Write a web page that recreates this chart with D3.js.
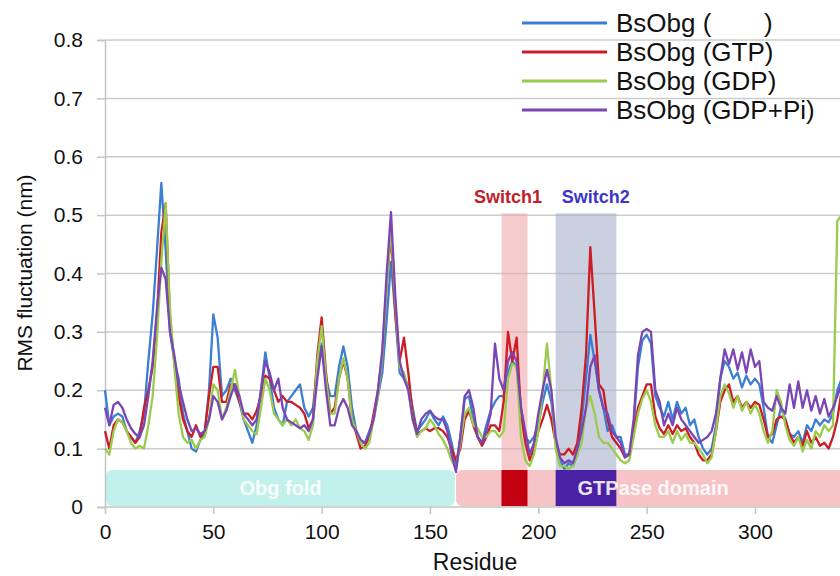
<!DOCTYPE html>
<html>
<head>
<meta charset="utf-8">
<script src="https://cdn.jsdelivr.net/npm/d3@7"></script>
<style>
  body { margin: 0; background: #fff; }
  svg { display: block; font-family: Arial, "Liberation Sans", sans-serif; }
</style>
</head>
<body>
<script>
// residue numbers (every second residue)
const residues = [0,2,4,6,8,10,12,14,16,18,20,22,24,26,28,30,32,34,36,38,
  40,42,44,46,48,50,52,54,56,58,60,62,64,66,68,70,72,74,76,78,
  80,82,84,86,88,90,92,94,96,98,100,102,104,106,108,110,112,114,116,118,
  120,122,124,126,128,130,132,134,136,138,140,142,144,146,148,150,152,154,156,158,
  160,162,164,166,168,170,172,174,176,178,180,182,184,186,188,190,192,194,196,198,
  200,202,204,206,208,210,212,214,216,218,220,222,224,226,228,230,232,234,236,238,
  240,242,244,246,248,250,252,254,256,258,260,262,264,266,268,270,272,274,276,278,
  280,282,284,286,288,290,292,294,296,298,300,302,304,306,308,310,312,314,316,318,
  320,322,324,326,328,330,332,334,336,338,340,342];

// RMS fluctuation (nm)
const apo = [.20,.14,.155,.16,.155,.13,.12,.11,.13,.16,
  .25,.33,.44,.555,.44,.30,.25,.22,.16,.13,
  .10,.095,.115,.125,.20,.33,.29,.19,.20,.22,
  .20,.18,.15,.13,.11,.14,.20,.265,.22,.17,
  .15,.14,.18,.19,.20,.21,.17,.155,.17,.24,
  .28,.22,.19,.19,.24,.275,.24,.17,.13,.11,
  .11,.13,.15,.19,.23,.32,.42,.33,.23,.22,
  .21,.17,.13,.14,.15,.165,.15,.14,.155,.14,
  .11,.07,.12,.185,.19,.15,.12,.11,.14,.165,
  .18,.19,.19,.23,.25,.24,.17,.12,.11,.12,
  .14,.18,.21,.18,.11,.08,.065,.075,.07,.09,
  .15,.22,.295,.25,.20,.17,.13,.14,.12,.12,
  .09,.09,.14,.24,.285,.295,.28,.19,.17,.155,
  .18,.15,.18,.16,.17,.14,.15,.12,.10,.09,
  .10,.14,.22,.25,.24,.22,.23,.205,.225,.21,
  .22,.21,.17,.12,.11,.14,.17,.15,.125,.12,
  .13,.11,.14,.13,.15,.14,.15,.145,.16,.20,
  .22,.23];

const gtp = [.13,.10,.14,.15,.145,.13,.12,.11,.12,.17,
  .20,.24,.33,.47,.52,.32,.25,.19,.15,.13,
  .12,.14,.12,.13,.19,.24,.24,.18,.18,.21,
  .21,.18,.16,.16,.15,.165,.19,.225,.22,.20,
  .18,.19,.18,.18,.175,.17,.16,.135,.15,.26,
  .325,.23,.16,.17,.22,.25,.22,.15,.125,.10,
  .105,.12,.16,.20,.26,.38,.47,.33,.25,.29,
  .23,.16,.125,.13,.135,.13,.135,.135,.13,.12,
  .10,.08,.10,.15,.165,.14,.12,.105,.12,.14,
  .14,.13,.18,.30,.25,.29,.16,.11,.08,.10,
  .13,.15,.175,.15,.11,.09,.09,.10,.09,.11,
  .17,.26,.445,.33,.21,.20,.15,.12,.11,.10,
  .085,.09,.13,.17,.19,.21,.21,.155,.135,.125,
  .14,.125,.14,.13,.135,.12,.11,.09,.08,.08,
  .09,.13,.18,.20,.21,.18,.19,.17,.18,.17,
  .18,.175,.15,.12,.125,.15,.155,.15,.125,.11,
  .12,.105,.13,.11,.12,.105,.11,.10,.12,.15,
  .20,.22];

const gdp = [.10,.09,.13,.15,.145,.13,.11,.10,.105,.10,
  .14,.19,.29,.42,.52,.34,.24,.16,.12,.11,
  .115,.10,.115,.12,.15,.21,.20,.15,.17,.20,
  .235,.19,.15,.14,.13,.125,.17,.22,.20,.16,
  .15,.14,.15,.14,.15,.135,.13,.115,.14,.25,
  .31,.22,.16,.16,.22,.255,.22,.15,.13,.11,
  .10,.11,.15,.19,.26,.38,.48,.35,.24,.23,
  .20,.15,.12,.13,.135,.15,.14,.125,.115,.10,
  .08,.065,.11,.16,.17,.14,.135,.12,.12,.13,
  .13,.12,.13,.22,.245,.24,.12,.08,.07,.09,
  .13,.20,.28,.20,.10,.07,.07,.065,.07,.09,
  .11,.17,.19,.16,.12,.11,.11,.10,.09,.08,
  .075,.08,.12,.16,.185,.20,.18,.14,.12,.12,
  .13,.11,.13,.115,.125,.11,.11,.10,.09,.075,
  .085,.13,.19,.21,.195,.17,.19,.165,.18,.16,
  .175,.16,.13,.11,.13,.20,.18,.14,.115,.105,
  .12,.095,.115,.10,.13,.12,.14,.13,.14,.49,
  .50,.45];

const gdpPi = [.17,.14,.175,.18,.17,.15,.135,.125,.12,.14,
  .19,.25,.34,.41,.39,.30,.26,.21,.18,.15,
  .13,.135,.125,.13,.15,.19,.18,.15,.165,.19,
  .21,.19,.16,.15,.14,.15,.20,.25,.23,.20,
  .22,.17,.15,.145,.14,.135,.14,.13,.15,.22,
  .275,.20,.14,.14,.17,.185,.17,.14,.13,.115,
  .11,.125,.15,.20,.27,.40,.505,.36,.25,.22,
  .20,.15,.125,.15,.16,.165,.155,.15,.15,.13,
  .09,.06,.12,.19,.20,.17,.12,.11,.13,.16,
  .28,.22,.20,.25,.265,.25,.17,.13,.09,.11,
  .16,.20,.235,.20,.12,.085,.075,.08,.075,.10,
  .13,.17,.24,.26,.20,.17,.16,.13,.12,.11,
  .085,.09,.15,.26,.30,.305,.30,.20,.18,.14,
  .16,.14,.17,.15,.14,.13,.12,.11,.115,.12,
  .13,.16,.22,.27,.245,.27,.235,.265,.23,.27,
  .24,.25,.18,.17,.165,.19,.17,.16,.21,.17,
  .215,.17,.20,.165,.19,.16,.185,.155,.17,.19,
  .21,.22];

const seriesNames = ["BsObg (", "BsObg (GTP)", "BsObg (GDP)", "BsObg (GDP+Pi)"];
const seriesColors = ["#3a7fd4", "#cc1c24", "#9acb4c", "#7a46b6"];
const seriesValues = [apo, gtp, gdp, gdpPi];

const yTicks = [0, 0.1, 0.2, 0.3, 0.4, 0.5, 0.6, 0.7, 0.8];
const xTicks = [0, 50, 100, 150, 200, 250, 300];

// residue ranges of the annotated regions
const switch1 = [183, 195];
const switch2 = [208, 236];
const obgFold = [0.5, 161.5];
const gtpaseDomain = [162, 360];

const width = 840, height = 576;

var svg = d3.select("body").append("svg")
    .attr("width", width)
    .attr("height", height);

var x = d3.scaleLinear().domain([0, 350]).range([105, 105 + 350 * 108.33 / 50]);
var y = d3.scaleLinear().domain([0, 0.8]).range([507, 40]);

// gridlines
svg.append("g").selectAll("line")
    .data(yTicks.slice(1))
    .enter().append("line")
    .attr("x1", 105).attr("x2", width)
    .attr("y1", d => y(d)).attr("y2", d => y(d))
    .attr("stroke", "#000").attr("stroke-opacity", 0.2).attr("stroke-width", 1.5);

// switch bands
var bands = [[switch1, "#f0a9ad"], [switch2, "#a7b1c9"]];
svg.append("g").selectAll("rect")
    .data(bands)
    .enter().append("rect")
    .attr("x", d => x(d[0][0]))
    .attr("width", d => x(d[0][1]) - x(d[0][0]))
    .attr("y", y(0.503))
    .attr("height", y(0) - y(0.503))
    .attr("fill", d => d[1])
    .attr("opacity", 0.6);

svg.append("text").text("Switch1")
    .attr("x", x(186)).attr("y", 203)
    .attr("text-anchor", "middle")
    .attr("font-size", 18).attr("font-weight", "bold")
    .attr("fill", "#c02028");
svg.append("text").text("Switch2")
    .attr("x", x(226.5)).attr("y", 203)
    .attr("text-anchor", "middle")
    .attr("font-size", 18).attr("font-weight", "bold")
    .attr("fill", "#3b37c8");

// domain bar
var barTop = 470, barH = 36;
svg.append("rect")
    .attr("x", x(obgFold[0])).attr("width", x(obgFold[1]) - x(obgFold[0]))
    .attr("y", barTop).attr("height", barH).attr("rx", 6)
    .attr("fill", "#c2f1ec");
svg.append("rect")
    .attr("x", x(gtpaseDomain[0])).attr("width", x(gtpaseDomain[1]) - x(gtpaseDomain[0]))
    .attr("y", barTop).attr("height", barH).attr("rx", 6)
    .attr("fill", "#f6c4c7");
svg.append("rect")
    .attr("x", x(switch1[0])).attr("width", x(switch1[1]) - x(switch1[0]))
    .attr("y", barTop).attr("height", barH)
    .attr("fill", "#c2000f");
svg.append("rect")
    .attr("x", x(switch2[0])).attr("width", x(switch2[1]) - x(switch2[0]))
    .attr("y", barTop).attr("height", barH)
    .attr("fill", "#4a21a2");

svg.append("text").text("Obg fold")
    .attr("x", x(81)).attr("y", barTop + 25)
    .attr("text-anchor", "middle")
    .attr("font-size", 20).attr("font-weight", "bold")
    .attr("fill", "#fff").attr("fill-opacity", 0.9);
svg.append("text").text("GTPase domain")
    .attr("x", x(253)).attr("y", barTop + 25)
    .attr("text-anchor", "middle")
    .attr("font-size", 20).attr("font-weight", "bold")
    .attr("fill", "#fff").attr("fill-opacity", 0.9);

// axes
var xAxis = svg.append("g")
    .attr("transform", `translate(0,${y(0)})`)
    .call(d3.axisBottom(x).tickValues(xTicks).tickSize(7).tickPadding(10).tickFormat(d3.format("d")));
var yAxis = svg.append("g")
    .attr("transform", "translate(105,0)")
    .call(d3.axisLeft(y).tickValues(yTicks).tickSize(8).tickPadding(14).tickFormat(d => d === 0 ? "0" : d.toFixed(1)));

[xAxis, yAxis].forEach(g => {
    g.select(".domain").attr("stroke", "#c4c4c4").attr("stroke-width", 1.5);
    g.selectAll(".tick line").attr("stroke", "#c4c4c4").attr("stroke-width", 1.5);
    g.selectAll("text").attr("font-size", 21).attr("fill", "#111")
        .attr("font-family", "Arial, 'Liberation Sans', sans-serif");
});
xAxis.select(".domain").attr("d", `M105,0H${width}`);

// lines
var line = d3.line()
    .x((d, i) => x(residues[i]))
    .y(d => y(d));

svg.append("g").selectAll("path")
    .data(seriesValues)
    .enter().append("path")
    .attr("d", d => line(d))
    .attr("fill", "none")
    .attr("stroke", (d, i) => seriesColors[i])
    .attr("stroke-width", 2.3)
    .attr("stroke-linejoin", "round");

// axis titles
svg.append("text").text("Residue")
    .attr("x", 475).attr("y", 570)
    .attr("text-anchor", "middle")
    .attr("font-size", 23).attr("fill", "#111");
svg.append("text").text("RMS fluctuation (nm)")
    .attr("transform", "translate(32,273) rotate(-90)")
    .attr("text-anchor", "middle")
    .attr("font-size", 21).attr("fill", "#111");

// legend
var legend = svg.append("g").selectAll("g")
    .data(seriesNames)
    .enter().append("g")
    .attr("transform", (d, i) => `translate(0,${[23, 52, 81, 110][i]})`);
legend.append("line")
    .attr("x1", 522).attr("x2", 607)
    .attr("stroke", (d, i) => seriesColors[i])
    .attr("stroke-width", 3);
legend.append("text")
    .text(d => d)
    .attr("x", 616).attr("y", 9)
    .attr("font-size", 26).attr("fill", "#111");
svg.append("text").text(")")
    .attr("x", 764).attr("y", 23 + 9)
    .attr("font-size", 26).attr("fill", "#111");
</script>
</body>
</html>
